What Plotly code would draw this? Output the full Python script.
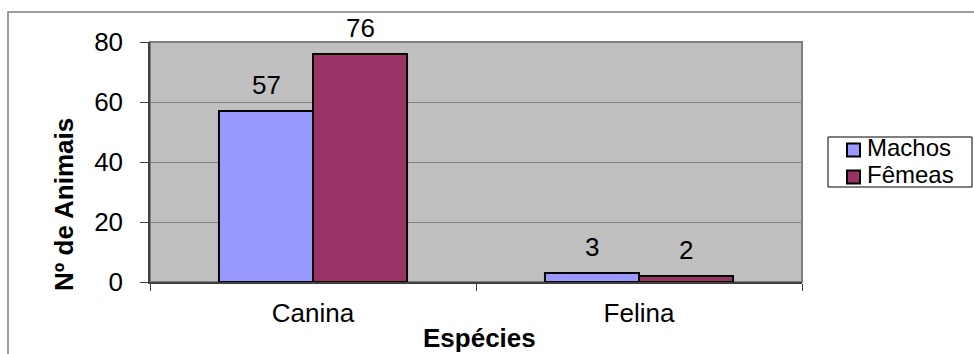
import plotly.graph_objects as go

# Dados: número de animais por espécie e sexo
especies = ["Canina", "Felina"]
machos = [57, 3]
femeas = [76, 2]
y_ticks = [0, 20, 40, 60, 80]
series = [("Machos", machos, "#9999FF"), ("Fêmeas", femeas, "#993366")]

FONT = "Liberation Sans, Arial, sans-serif"
W, H = 974, 354
L, R, T, B = 150, 172, 42, 72
PW, PH = W - L - R, H - T - B


def px_x(x):
    return (x - L) / PW


def px_y(y):
    return (H - B - y) / PH


fig = go.Figure()
for name, vals, color in series:
    fig.add_trace(go.Bar(
        name=name, x=especies, y=vals, showlegend=False,
        marker=dict(color=color, line=dict(color="#000000", width=2)),
    ))

# Rótulos de valor acima de cada barra
annotations = []
for (name, vals, color), shift in zip(series, (-47, 47)):
    for cat, v in zip(especies, vals):
        annotations.append(dict(
            x=cat, y=v, xref="x", yref="y", text=str(v), showarrow=False,
            xshift=shift, yshift=9, yanchor="bottom",
            font=dict(family=FONT, size=26, color="#000000"),
        ))

# Títulos dos eixos
annotations.append(dict(
    x=px_x(479), y=px_y(338), xref="paper", yref="paper",
    text="<b>Espécies</b>", showarrow=False, xanchor="center", yanchor="middle",
    font=dict(family=FONT, size=26, color="#000000"),
))
annotations.append(dict(
    x=px_x(64), y=px_y(205), xref="paper", yref="paper",
    text="<b>Nº de Animais</b>", showarrow=False, textangle=-90,
    xanchor="center", yanchor="middle",
    font=dict(family=FONT, size=26, color="#000000"),
))

shapes = [
    # moldura externa do gráfico
    dict(type="rect", xref="paper", yref="paper",
         x0=px_x(8), y0=px_y(400), x1=px_x(1000), y1=px_y(12),
         line=dict(color="#808080", width=1.5), layer="below"),
    # borda da área de plotagem
    dict(type="rect", xref="paper", yref="paper",
         x0=0, y0=0, x1=1, y1=1,
         line=dict(color="#808080", width=2), layer="below"),
    # caixa da legenda
    dict(type="rect", xref="paper", yref="paper",
         x0=px_x(828), y0=px_y(187), x1=px_x(972), y1=px_y(137),
         line=dict(color="#000000", width=1), fillcolor="#FFFFFF"),
]

# Entradas da legenda: quadrado colorido + nome da série
for i, (name, vals, color) in enumerate(series):
    cy = 150 + 27 * i
    shapes.append(dict(
        type="rect", xref="paper", yref="paper",
        x0=px_x(847), x1=px_x(860), y0=px_y(cy + 6.5), y1=px_y(cy - 6.5),
        line=dict(color="#000000", width=2), fillcolor=color,
    ))
    annotations.append(dict(
        x=px_x(865), y=px_y(cy - 2.5), xref="paper", yref="paper",
        text=name, showarrow=False, xanchor="left", yanchor="middle",
        font=dict(family=FONT, size=24, color="#000000"),
    ))

fig.update_layout(
    width=W, height=H,
    margin=dict(l=L, r=R, t=T, b=B),
    paper_bgcolor="#FFFFFF",
    plot_bgcolor="#C0C0C0",
    barmode="group",
    bargap=0.423,
    bargroupgap=0,
    font=dict(family=FONT, size=26, color="#000000"),
    showlegend=False,
    annotations=annotations,
    shapes=shapes,
)

fig.update_xaxes(
    type="category", range=[-0.5, 1.5],
    showline=True, linecolor="#404040", linewidth=1.5,
    ticks="outside", tickson="boundaries", ticklen=7, tickcolor="#404040",
    tickfont=dict(family=FONT, size=26, color="#000000"),
    ticklabelstandoff=7,
    showgrid=False, zeroline=False,
)
fig.update_yaxes(
    range=[0, 80], tickvals=y_ticks,
    showline=True, linecolor="#404040", linewidth=1.5,
    ticks="outside", ticklen=8, tickcolor="#404040",
    tickfont=dict(family=FONT, size=26, color="#000000"),
    ticklabelstandoff=12,
    showgrid=True, gridcolor="#808080", gridwidth=1,
    zeroline=False,
)

fig.write_html("out.html")
